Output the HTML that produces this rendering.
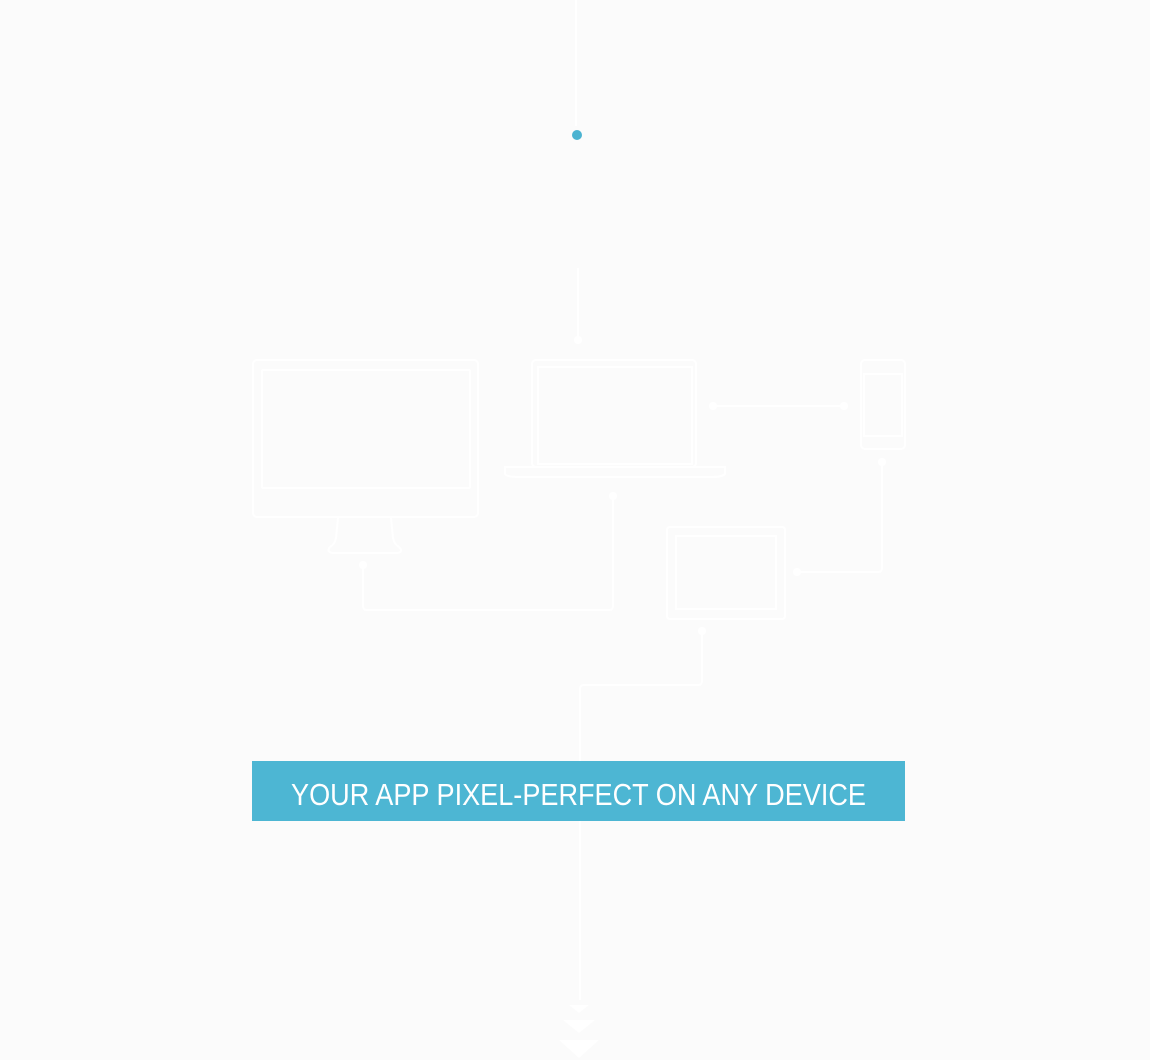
<!DOCTYPE html>
<html><head><meta charset="utf-8"><style>
html,body{margin:0;padding:0;background:#fbfbfb;}
svg{display:block}
</style></head><body>
<svg width="1150" height="1060" viewBox="0 0 1150 1060" xmlns="http://www.w3.org/2000/svg">
<rect width="1150" height="1060" fill="#fbfbfb"/>
<g stroke="#ffffff" stroke-width="2" fill="none">
<line x1="576" y1="0" x2="576" y2="126"/>
<line x1="578" y1="268" x2="578" y2="338"/>
<!-- monitor -->
<rect x="253" y="360" width="225" height="157" rx="4"/>
<rect x="262" y="370" width="208" height="118" rx="1"/>
<path d="M338 518 L336 538 Q335 544 330 547 Q326 552 333 553 L397 553 Q404 552 399 547 Q394 544 393 538 L391 518"/>
<!-- laptop -->
<rect x="532" y="360" width="164" height="107" rx="4"/>
<rect x="538" y="367" width="154" height="97"/>
<path d="M505 467 L725 467 L725 474 Q722 477 712 477 L518 477 Q507 477 505 474 Z"/>
<!-- phone -->
<rect x="861" y="360" width="44" height="89" rx="4"/>
<rect x="864" y="374" width="38" height="62"/>
<!-- tablet -->
<rect x="667" y="527" width="118" height="92" rx="3"/>
<rect x="676" y="536" width="100" height="73"/>
<!-- connectors -->
<line x1="713" y1="406" x2="844" y2="406"/>
<path d="M613 496 L613 606 Q613 610 609 610 L367 610 Q363 610 363 606 L363 565"/>
<path d="M882 462 L882 568 Q882 572 878 572 L797 572"/>
<path d="M702 631 L702 681 Q702 685 698 685 L584 685 Q580 685 580 689 L580 1000"/>
</g>
<g fill="#ffffff">
<circle cx="578" cy="340" r="4"/>
<circle cx="713" cy="406" r="4"/>
<circle cx="844" cy="406" r="4"/>
<circle cx="613" cy="496" r="4"/>
<circle cx="363" cy="565" r="4"/>
<circle cx="882" cy="462" r="4"/>
<circle cx="797" cy="572" r="4"/>
<circle cx="702" cy="631" r="4"/>
<polygon points="569,1005 589,1005 579,1013"/>
<polygon points="563,1020 595,1020 579,1033"/>
<polygon points="559,1040 599,1040 579,1058"/>
</g>
<circle cx="577" cy="135" r="5" fill="#4bb3d1"/>
<rect x="252" y="761" width="653" height="60" fill="#4db6d3"/>
<text x="291" y="805" fill="#ffffff" font-family="Liberation Sans, sans-serif" font-size="31" textLength="575" lengthAdjust="spacingAndGlyphs">YOUR APP PIXEL-PERFECT ON ANY DEVICE</text>
</svg>
</body></html>
